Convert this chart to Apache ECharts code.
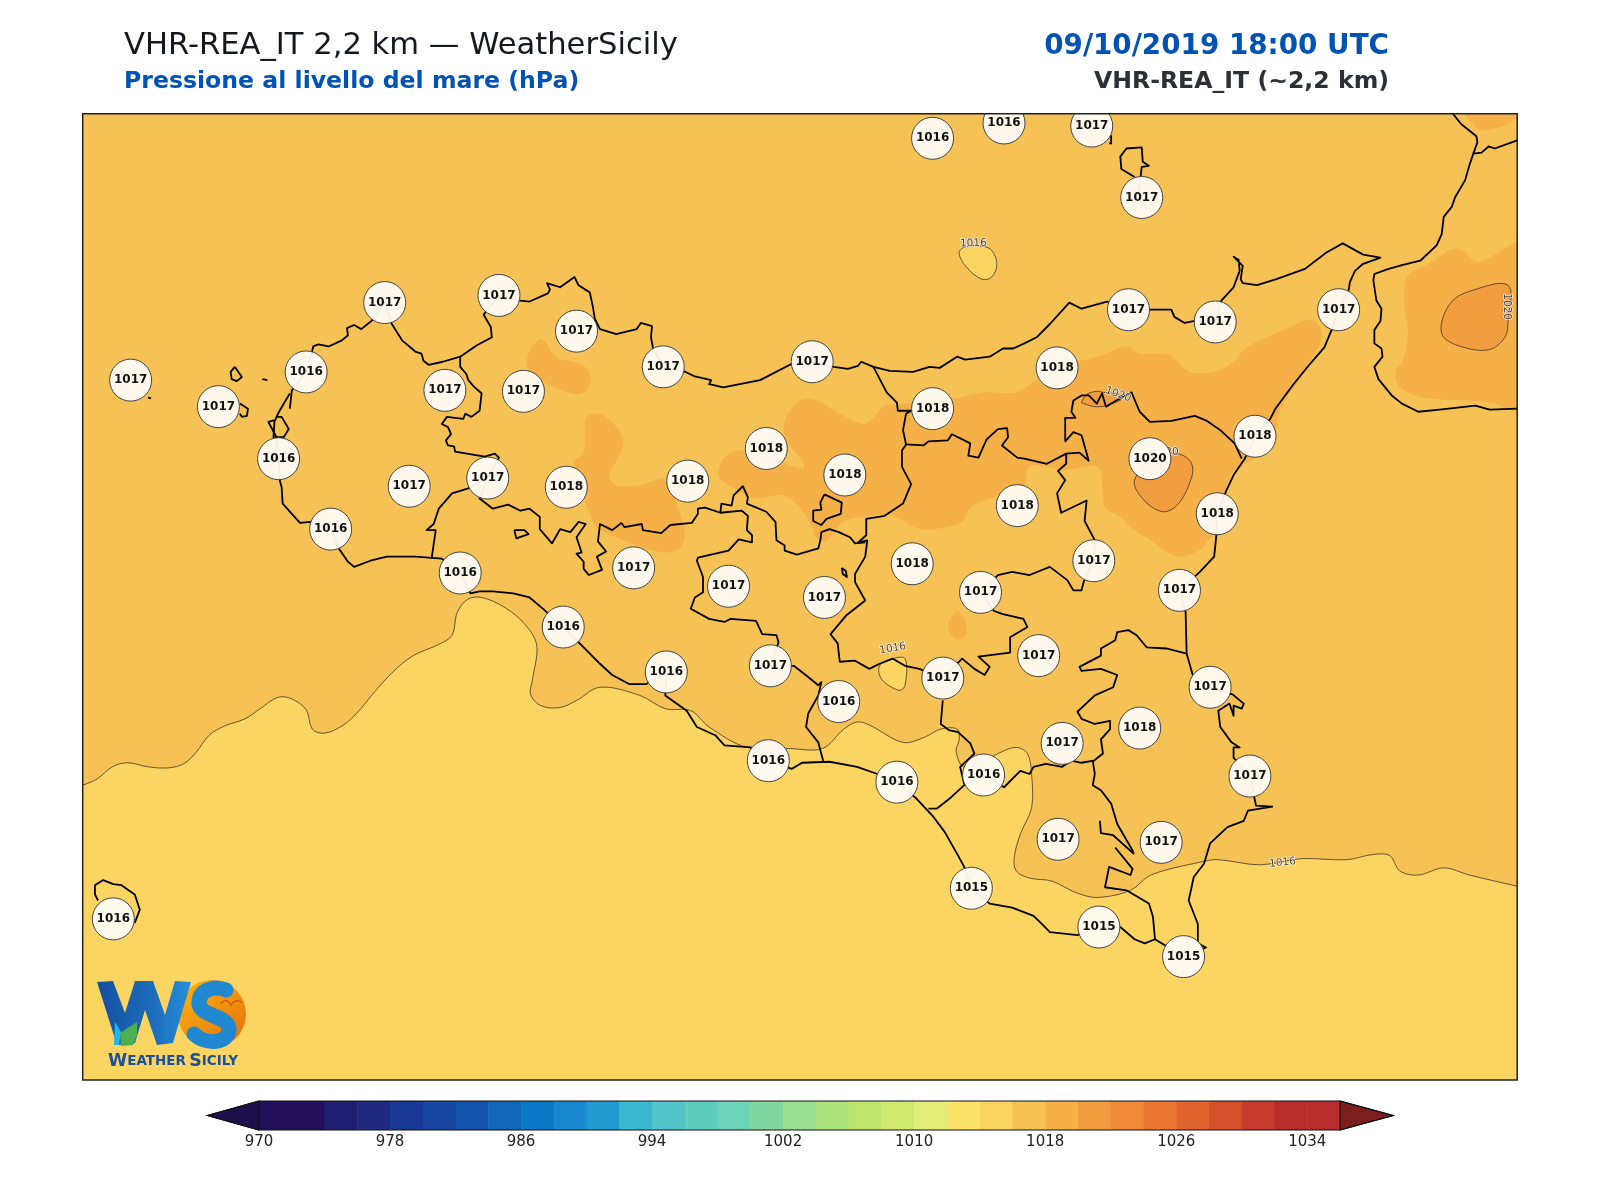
<!DOCTYPE html>
<html>
<head>
<meta charset="utf-8">
<title>VHR-REA_IT 2,2 km</title>
<script src="https://cdn.jsdelivr.net/npm/echarts@6/dist/echarts.min.js"></script>
<style>
html, body { margin: 0; padding: 0; background: #fff; }
#chart { width: 1600px; height: 1200px; }
</style>
</head>
<body>
<div id="chart"></div>
<script>
// stations: map x, map y, pressure (hPa)
var stations = [
  [128,372,1017],[214,398,1017],[300,364,1016],[273,449,1016],[377,296,1017],[324,518,1016],
  [401,476,1017],[436,382,1017],[478,468,1017],[489,289,1017],[513,383,1017],[565,324,1017],
  [451,561,1016],[555,477,1018],[552,614,1016],[621,556,1017],[650,359,1017],[674,471,1018],
  [653,658,1016],[714,574,1017],[751,439,1018],[755,652,1017],[796,354,1017],[808,585,1017],
  [822,687,1016],[753,745,1016],[828,465,1018],[879,766,1016],[894,552,1018],[914,135,1016],
  [914,400,1018],[924,664,1017],[961,580,1017],[964,759,1016],[984,120,1016],[952,870,1015],
  [997,495,1018],[1018,642,1017],[1036,360,1018],[1041,728,1017],[1037,822,1017],[1070,123,1017],
  [1072,549,1017],[1077,908,1015],[1106,303,1017],[1117,713,1018],[1119,193,1017],[1127,449,1020],
  [1138,825,1017],[1156,578,1017],[1160,937,1015],[1186,673,1017],[1191,315,1017],[1193,503,1018],
  [1225,760,1017],[1230,427,1018],[1312,303,1017],[111,900,1016]
];

// colorbar
var cbarLevels = [970,972,974,976,978,980,982,984,986,988,990,992,994,996,998,1000,1002,1004,1006,1008,1010,1012,1014,1016,1018,1020,1022,1024,1026,1028,1030,1032,1034];
var cbarColors = ['#22105A','#22105A','#201E70','#1E2A80','#183894','#1646A0','#1352AC','#1066B8','#0E78C8','#1A88CE','#229CD0','#3AB8D0','#50C4C8','#5ECCBE','#6CD4B8','#80D8A0','#98E090','#AEE480','#BEE66C','#D0EA70','#E2EE78','#FBE36A','#FCD462','#F6C155','#F5B048','#F29E40','#EF8B38','#E97732','#E1632C','#D5512B','#C63B2C','#B92C2C','#B92C2C'];
var cbarTicks = [970,978,986,994,1002,1010,1018,1026,1034];

// filled pressure areas, map units
var band1014 = [[50,782],[81,769],[95,763],[110,751],[125,747],[145,751],[165,752],[180,748],[192,737],[205,720],[220,711],[240,704],[255,694],[272,683],[285,684],[300,695],[306,714],[318,718],[335,711],[350,698],[365,680],[385,658],[405,642],[430,631],[443,622],[448,600],[458,587],[472,585],[495,595],[515,612],[526,632],[522,665],[520,680],[530,691],[548,693],[565,686],[588,673],[627,681],[652,694],[677,696],[695,712],[732,732],[773,733],[806,733],[827,714],[840,707],[852,710],[885,727],[906,722],[922,714],[938,714],[940,725],[937,735],[944,751],[960,748],[978,738],[996,732],[1007,738],[1011,758],[1011,791],[1000,817],[994,840],[996,853],[1009,860],[1031,863],[1054,874],[1075,879],[1108,872],[1128,857],[1178,844],[1194,842],[1235,847],[1275,841],[1320,842],[1345,837],[1362,838],[1372,853],[1390,857],[1415,850],[1440,857],[1487,868],[1520,876],[1520,1110],[50,1110]];
var low1016North = [[940,247],[947,261],[962,273],[972,271],[977,258],[972,245],[964,241],[947,241]];
var low1016Centre = [[862,652],[864,665],[881,676],[887,671],[887,645],[875,645]];
var area1018West = [[516,354],[521,340],[531,332],[545,349],[572,358],[578,367],[575,382],[565,386],[539,377],[519,364]];
var area1018Mid = [[588,405],[604,418],[611,433],[604,451],[597,464],[604,475],[627,475],[653,469],[663,493],[668,508],[671,524],[666,537],[653,541],[630,536],[604,526],[585,516],[577,500],[562,454],[572,444],[573,431],[575,408]];
var area1018Belt = [[704,462],[710,448],[725,441],[760,450],[787,459],[786,451],[771,431],[769,412],[784,392],[800,392],[823,405],[846,415],[857,408],[867,397],[880,396],[898,394],[941,389],[964,384],[996,384],[1016,372],[1057,354],[1078,348],[1104,339],[1117,346],[1147,348],[1166,364],[1192,363],[1209,354],[1222,340],[1258,323],[1285,313],[1295,323],[1294,336],[1282,356],[1274,372],[1261,389],[1253,407],[1245,438],[1209,461],[1202,480],[1193,520],[1184,529],[1178,537],[1157,545],[1141,539],[1128,529],[1110,518],[1098,506],[1083,497],[1081,483],[1076,457],[1045,460],[1013,455],[1008,457],[1004,474],[993,480],[973,487],[951,497],[944,510],[928,516],[902,518],[875,505],[853,505],[826,511],[810,529],[799,526],[797,518],[784,497],[768,485],[741,488],[728,483],[706,469]];
var area1018Lake = [[930,608],[939,599],[947,611],[945,624],[937,626],[930,617]];
var area1018East = [[1376,295],[1380,270],[1400,258],[1428,243],[1447,256],[1460,252],[1487,236],[1510,225],[1510,405],[1460,394],[1395,389],[1372,379],[1368,363],[1375,353],[1380,325]];
var area1018Corner = [[1430,100],[1436,112],[1450,127],[1462,126],[1480,120],[1500,100]];
var high1020East = [[1478,279],[1440,285],[1423,295],[1413,315],[1415,330],[1435,340],[1460,342],[1475,330],[1478,315]];
var high1020Etna = [[1125,450],[1112,470],[1114,480],[1127,495],[1142,501],[1156,492],[1168,467],[1168,454],[1160,446],[1148,444]];
var high1020North = [[1060,394],[1065,386],[1075,383],[1081,384],[1095,386],[1100,390],[1084,397],[1073,398],[1062,395]];

// contour labels: x, y, text, rotation
var contourLabels = [[954,238,'1016',2],[875,635,'1016',10],[1257,845,'1016',6],[1096,386,'1020',-20],[1477,300,'1020',-90],[1142,443,'1020',0]];

// coast and province lines, map units
var coastNorth = [[284,400],[286,382],[300,364],[306,343],[307,339],[312,337],[322,339],[335,333],[341,328],[340,321],[347,318],[354,322],[364,314],[377,296],[384,317],[394,333],[407,344],[413,346],[415,353],[420,357],[434,354],[451,349],[467,338],[482,330],[481,320],[474,308],[489,289],[510,294],[519,295],[537,287],[539,283],[536,277],[549,281],[563,271],[567,279],[578,286],[581,300],[583,312],[588,322],[604,327],[624,322],[628,316],[639,319],[638,330],[640,341],[650,359],[672,364],[680,368],[697,372],[695,376],[709,379],[725,376],[745,372],[776,356],[796,354],[817,359],[831,361],[841,358],[844,354],[856,359],[872,363],[895,364],[911,359],[921,360],[938,349],[946,352],[970,349],[983,341],[993,341],[1004,336],[1016,330],[1029,317],[1048,296],[1060,302],[1085,295],[1106,303],[1128,303],[1148,303],[1151,310],[1161,316],[1171,314],[1191,315],[1197,294],[1209,281],[1215,265],[1214,254],[1209,251],[1218,260],[1216,273],[1218,277],[1232,279],[1251,273],[1279,263],[1300,247],[1316,238],[1336,249],[1353,252],[1336,258],[1328,265],[1323,276],[1322,283],[1312,303]];
var coastEast = [[1312,303],[1305,323],[1298,340],[1284,356],[1267,377],[1250,400],[1245,410],[1230,427],[1220,449],[1209,465],[1202,480],[1193,503],[1192,525],[1190,545],[1176,560],[1156,578],[1162,599],[1163,640],[1169,661],[1186,673],[1208,680],[1219,689],[1217,694],[1209,691],[1209,701],[1205,689],[1194,696],[1196,712],[1207,727],[1215,732],[1209,732],[1209,742],[1225,760],[1231,789],[1247,790],[1223,794],[1219,804],[1203,810],[1186,826],[1180,846],[1170,859],[1165,882],[1174,905],[1174,924],[1182,928],[1160,937]];
var coastSouth = [[1160,937],[1132,920],[1122,924],[1112,920],[1098,908],[1077,908],[1056,916],[1029,913],[1021,905],[1013,897],[992,889],[970,885],[952,870],[945,849],[939,838],[926,815],[914,799],[897,781],[879,766],[860,758],[840,751],[813,746],[786,747],[776,753],[753,745],[736,732],[710,730],[701,720],[683,712],[673,696],[652,681],[653,658],[633,670],[617,670],[600,661],[588,650],[572,634],[552,614],[532,596],[519,585],[503,581],[483,579],[470,579],[461,581],[451,561],[433,547],[407,545],[379,545],[363,549],[347,555],[341,550],[332,537],[324,518],[304,511],[294,512],[286,503],[277,493],[276,477],[274,470],[273,449],[271,428],[263,413],[270,411],[271,408],[274,402],[284,385]];
var saline = [[271,408],[276,408],[283,420],[278,428],[268,428],[269,412]];
var isleLevanzo = [[230,359],[237,369],[232,373],[227,371],[226,364],[230,359]];
var isleFavignana = [[235,395],[243,400],[242,407],[237,408],[235,405]];
var isleMarettimo = [[145,389],[148,390]];
var isleFormica = [[257,371],[262,372]];
var isleAeolian = [[1112,173],[1099,165],[1098,153],[1104,145],[1119,144],[1120,158],[1126,162],[1119,163],[1118,172],[1116,190],[1124,205]];
var isleTop = [[1087,140],[1089,140],[1089,132]];
var islePantelleria = [[96,882],[93,876],[93,867],[101,862],[111,866],[119,867],[132,876],[137,891],[132,904]];
var coastCalabria = [[1424,111],[1432,121],[1447,133],[1448,139],[1444,150],[1440,162],[1436,176],[1426,193],[1423,202],[1415,212],[1413,229],[1408,240],[1392,255],[1375,259],[1361,263],[1347,268],[1346,274],[1349,294],[1354,302],[1353,314],[1347,323],[1347,336],[1354,341],[1355,349],[1347,359],[1351,371],[1364,387],[1374,395],[1390,403],[1411,401],[1446,397],[1460,401],[1487,400]];
var coastCalabriaTop = [[1444,150],[1452,149],[1459,143],[1465,145],[1487,137]];
var borderTrapani = [[451,349],[451,359],[457,366],[459,372],[465,379],[472,385],[470,402],[462,408],[456,405],[454,410],[438,408],[433,415],[439,418],[442,425],[437,431],[439,436],[445,437],[446,442],[475,447],[485,444],[489,448],[478,468],[459,478],[443,483],[430,498],[425,513],[418,519],[427,519],[423,547]];
var borderAgrigento = [[478,468],[470,488],[483,498],[498,494],[510,500],[519,498],[529,506],[529,518],[541,532],[549,518],[559,521],[567,511],[574,513],[565,526],[570,541],[565,542],[572,550],[572,557],[577,563],[590,558],[585,545],[594,540],[586,530],[588,513],[600,519],[609,512],[612,516],[629,513],[630,519],[648,522],[657,514],[678,512],[684,503],[684,498],[691,497],[706,502],[727,500],[733,505],[732,519],[737,524],[737,531],[724,528],[714,539],[684,546],[683,549],[689,565],[689,580],[681,585],[677,596],[695,606],[710,609],[716,606],[741,608],[747,621],[761,622],[763,629],[755,652],[778,652],[792,663],[802,671],[805,668],[802,681],[792,699],[790,712],[802,727],[807,746]];
var borderPalermo = [[706,502],[707,493],[717,495],[719,485],[728,476],[733,487],[732,493],[751,501],[760,511],[761,529],[769,534],[769,539],[781,543],[802,537],[804,529],[805,521],[813,518],[822,521],[833,526],[838,532],[848,531]];
var borderMessina = [[856,359],[869,384],[879,394],[880,402],[893,402],[888,405],[885,421],[888,435],[884,441],[884,457],[893,474],[885,493],[867,505],[849,508],[849,524],[841,531],[850,529],[848,545],[838,562],[838,570],[848,588],[829,603],[814,621],[821,630],[823,648],[838,647],[852,655],[862,650],[875,645],[887,652],[901,655],[924,664],[943,645],[955,655],[965,661],[970,653],[959,643],[990,639],[990,624],[1007,614],[1003,606],[982,601],[974,598],[961,580],[978,563],[992,560],[1009,563],[1029,555],[1046,568],[1052,578],[1060,578],[1062,570],[1072,549],[1073,529],[1063,510],[1065,490],[1040,502],[1036,483],[1044,470],[1037,461],[1045,454],[1045,444],[1058,443],[1067,451],[1060,426],[1052,423],[1044,432],[1044,409],[1054,409],[1050,403],[1052,392],[1060,387],[1067,387],[1075,395],[1080,385],[1084,398],[1094,392],[1109,384],[1117,403],[1127,413],[1148,412],[1171,407],[1183,412],[1196,421],[1210,434],[1217,449]];
var borderEnna = [[888,435],[905,436],[910,432],[929,431],[933,425],[951,434],[949,446],[959,448],[967,430],[978,420],[987,419],[988,428],[982,436],[997,448],[1004,449],[1026,454],[1045,444]];
var borderEnclave = [[808,484],[825,492],[824,503],[810,508],[805,514],[797,510],[797,500],[805,499],[804,492],[808,484]];
var borderLake = [[504,519],[514,519],[518,523],[506,527],[504,519]];
var lakePergusa = [[825,556],[829,559],[830,565],[826,562],[825,556]];
var borderSiracusa = [[1163,640],[1143,635],[1124,634],[1114,622],[1106,617],[1095,619],[1093,627],[1079,635],[1079,642],[1058,653],[1060,657],[1079,655],[1095,661],[1091,673],[1073,681],[1056,697],[1060,704],[1073,709],[1088,706],[1088,714],[1079,724],[1081,738],[1072,745],[1060,747],[1050,745],[1041,751],[1025,748],[1013,751],[1009,758],[1000,755],[984,771],[964,759],[945,769],[932,781],[918,792],[910,792]];
var borderRagusa = [[1071,745],[1073,758],[1071,769],[1079,774],[1089,787],[1095,807],[1110,833],[1111,836],[1091,818],[1079,816],[1078,804]];
var borderRagusaSouth = [[1093,830],[1110,851],[1108,857],[1087,849],[1083,869],[1104,872],[1126,885],[1130,898],[1132,920]];
var borderGela = [[924,686],[922,709],[930,715],[939,717],[951,728],[955,738],[941,751],[945,768]];

var mapFills = [
  { pts: area1018West, fill: '#F5B048' },
  { pts: area1018Mid, fill: '#F5B048' },
  { pts: area1018Belt, fill: '#F5B048' },
  { pts: area1018Lake, fill: '#F5B048' },
  { pts: area1018East, fill: '#F5B048' },
  { pts: area1018Corner, fill: '#F5B048' },
  { pts: band1014, fill: '#FCD462', line: true },
  { pts: low1016North, fill: '#FCD462', line: true },
  { pts: low1016Centre, fill: '#FCD462', line: true },
  { pts: high1020East, fill: '#F29E40', line: true },
  { pts: high1020Etna, fill: '#F29E40', line: true },
  { pts: high1020North, fill: '#F29E40', line: true }
];
var mapLines = [coastNorth, coastEast, coastSouth, saline, isleLevanzo, isleFavignana, isleMarettimo, isleFormica, isleAeolian, isleTop, islePantelleria, coastCalabria, coastCalabriaTop, borderTrapani, borderAgrigento, borderPalermo, borderMessina, borderEnna, borderEnclave, borderLake, lakePergusa, borderSiracusa, borderRagusa, borderRagusaSouth, borderGela];

var FONT = '"DejaVu Sans", sans-serif';
var series = [];

// pressure areas and contours
series.push({
  type: 'custom', xAxisIndex: 0, yAxisIndex: 0, clip: true, silent: true, z: 2,
  data: mapFills.map(function (s, i) { return [i]; }),
  renderItem: function (params, api) {
    var s = mapFills[params.dataIndex];
    return {
      type: 'polygon',
      shape: { points: s.pts.map(function (p) { return api.coord(p); }), smooth: 0.35 },
      style: { fill: s.fill, stroke: s.line ? 'rgba(30,30,30,0.85)' : null, lineWidth: 0.8 }
    };
  }
});

// coast
mapLines.forEach(function (pts) {
  series.push({
    type: 'line', xAxisIndex: 0, yAxisIndex: 0, data: pts, symbol: 'none', silent: true, z: 3,
    lineStyle: { color: '#000', width: 1.8, join: 'round' }
  });
});

// contour labels
series.push({
  type: 'scatter', xAxisIndex: 0, yAxisIndex: 0, symbolSize: 0, silent: true, z: 4,
  data: contourLabels.map(function (d) {
    return {
      value: [d[0], d[1]],
      label: { show: true, position: 'inside', formatter: d[2], rotate: d[3], fontFamily: FONT, fontSize: 10.5, color: '#111', textBorderColor: '#fff', textBorderWidth: 1.5 }
    };
  })
});

// stations, clipped at the map edge
series.push({
  type: 'custom', xAxisIndex: 0, yAxisIndex: 0, silent: true, z: 5, clip: true,
  data: stations,
  renderItem: function (params, api) {
    var c = api.coord([api.value(0), api.value(1)]);
    return {
      type: 'group',
      children: [
        { type: 'circle', shape: { cx: c[0], cy: c[1], r: 21 }, style: { fill: 'rgba(255,252,246,0.95)', stroke: '#444', lineWidth: 1 } },
        { type: 'text', style: { text: String(api.value(2)), x: c[0], y: c[1], textAlign: 'center', textVerticalAlign: 'middle', font: 'bold 12px ' + FONT, fill: '#111' } }
      ]
    };
  }
});

// map frame
series.push({
  type: 'custom', xAxisIndex: 0, yAxisIndex: 0, silent: true, z: 6, data: [[0]],
  renderItem: function (params) {
    var c = params.coordSys;
    return { type: 'rect', shape: { x: c.x, y: c.y, width: c.width, height: c.height }, style: { fill: null, stroke: '#222', lineWidth: 1.5 } };
  }
});

// colorbar cells
series.push({
  type: 'custom', xAxisIndex: 1, yAxisIndex: 1, silent: true, z: 2,
  data: cbarLevels.map(function (l) { return [l]; }),
  renderItem: function (params, api) {
    var l = api.value(0);
    var a = api.coord([l, 1]), b = api.coord([l + 2, 0]);
    return { type: 'rect', shape: { x: a[0], y: a[1], width: b[0] - a[0] + 0.5, height: b[1] - a[1] }, style: { fill: cbarColors[params.dataIndex] } };
  }
});

// colorbar ends
var cbarEnds = [
  { pts: [[970,1],[966.85,0.5],[970,0]], fill: '#1E0F4E' },
  { pts: [[1036,1],[1039.25,0.5],[1036,0]], fill: '#7E1D1D' },
  { pts: [[970,1],[966.85,0.5],[970,0],[1036,0],[1039.25,0.5],[1036,1]], fill: null }
];
series.push({
  type: 'custom', xAxisIndex: 1, yAxisIndex: 1, silent: true, z: 3,
  data: cbarEnds.map(function (e, i) { return [i]; }),
  renderItem: function (params, api) {
    var e = cbarEnds[params.dataIndex];
    return {
      type: 'polygon',
      shape: { points: e.pts.map(function (p) { return api.coord(p); }) },
      style: { fill: e.fill, stroke: '#111', lineWidth: 1.1 }
    };
  }
});

function curve(x1, y1, cx1, cy1, cx2, cy2, x2, y2, color, width) {
  return {
    type: 'bezierCurve', z: 21,
    shape: { x1: x1, y1: y1, cpx1: cx1, cpy1: cy1, cpx2: cx2, cpy2: cy2, x2: x2, y2: y2 },
    style: { fill: null, stroke: color, lineWidth: width, lineCap: 'round' }
  };
}

var chart = echarts.init(document.getElementById('chart'), null, { renderer: 'canvas' });
chart.setOption({
  animation: false,
  backgroundColor: '#fff',
  title: [
    { text: 'VHR-REA_IT 2,2 km — WeatherSicily', left: 119, top: 26, textStyle: { fontFamily: FONT, fontSize: 30.6, fontWeight: 'normal', color: '#14181F' } },
    { text: 'Pressione al livello del mare (hPa)', left: 119, top: 65, textStyle: { fontFamily: FONT, fontSize: 23.6, fontWeight: 'bold', color: '#0052B4' } },
    { text: '09/10/2019 18:00 UTC', right: 206, top: 28, textStyle: { fontFamily: FONT, fontSize: 27.8, fontWeight: 'bold', color: '#0052B4' } },
    { text: 'VHR-REA_IT (~2,2 km)', right: 206, top: 65, textStyle: { fontFamily: FONT, fontSize: 23.6, fontWeight: 'bold', color: '#2B2F36' } }
  ],
  grid: [
    { left: 82.7, top: 113.8, width: 1434.5, height: 966.3, backgroundColor: '#F6C155', show: true, borderWidth: 0 },
    { left: 259, top: 1101, width: 1081, height: 29, show: false }
  ],
  xAxis: [
    { type: 'value', gridIndex: 0, min: 81, max: 1487, show: false },
    {
      type: 'value', gridIndex: 1, min: 970, max: 1036,
      axisLine: { show: false }, axisTick: { show: false }, splitLine: { show: false },
      axisLabel: { customValues: cbarTicks, formatter: function (v) { return String(v); }, fontFamily: FONT, fontSize: 15, color: '#222', margin: 5 }
    }
  ],
  yAxis: [
    { type: 'value', gridIndex: 0, min: 111, max: 1058, inverse: true, show: false },
    { type: 'value', gridIndex: 1, min: 0, max: 1, show: false }
  ],
  series: series,
  graphic: [
    { type: 'circle', z: 20, shape: { cx: 212, cy: 1014, r: 34 }, style: { fill: new echarts.graphic.LinearGradient(0, 0, 1, 1, [{ offset: 0, color: '#FBB612' }, { offset: 1, color: '#E56F0B' }]) } },
    { type: 'polygon', z: 21, shape: { points: [[97,982],[113,981],[125,1013],[135,981],[153,981],[165,1015],[175,981],[191,982],[173,1043],[157,1045],[145,1010],[135,1043],[117,1045]] }, style: { fill: new echarts.graphic.LinearGradient(0, 0, 1, 0, [{ offset: 0, color: '#144FA0' }, { offset: 0.6, color: '#1C6DBB' }, { offset: 1, color: '#2590DC' }]) } },
    { type: 'polygon', z: 22, shape: { points: [[115,1022],[121,1032],[119,1045],[114,1045]] }, style: { fill: '#1CB8F0' } },
    { type: 'polygon', z: 22, shape: { points: [[137,1022],[120,1033],[121,1046],[133,1045],[137,1035]] }, style: { fill: '#4CB050' } },
    curve(226, 990, 214, 985, 199, 990, 199, 1003, '#2088D0', 15),
    curve(199, 1003, 199, 1017, 229, 1015, 229, 1029, '#2088D0', 15),
    curve(229, 1029, 229, 1044, 205, 1045, 194, 1034, '#2088D0', 15),
    curve(221, 1003, 225, 999, 228, 1000, 231, 1005, '#C9501A', 1.2),
    curve(231, 1005, 234, 1000, 238, 1000, 241, 1002, '#C9501A', 1.2),
    { type: 'text', z: 22, left: 108, top: 1053, style: { text: '{b|W}{s|EATHER} {b|S}{s|ICILY}', rich: { b: { fontFamily: FONT, fontSize: 17.4, fontWeight: 'bold', fill: '#1A4F9C', textFill: '#1A4F9C' }, s: { fontFamily: FONT, fontSize: 13.5, fontWeight: 'bold', fill: '#1A4F9C', textFill: '#1A4F9C' } } } }
  ]
});
</script>
</body>
</html>
